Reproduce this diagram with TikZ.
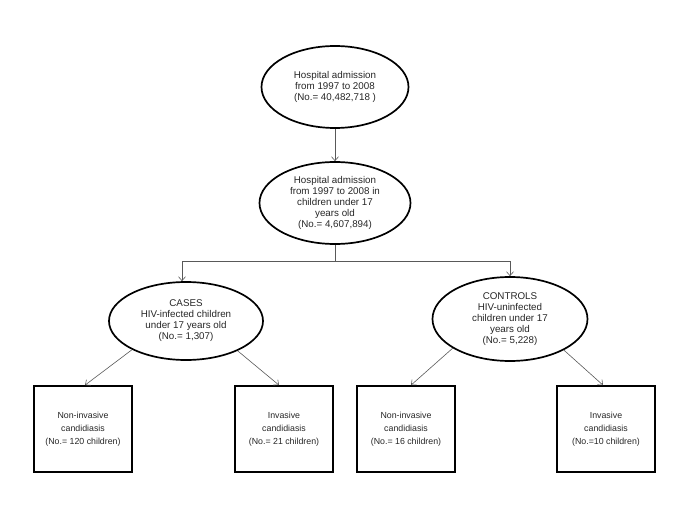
\documentclass[tikz,border=0pt]{standalone}
\usepackage{fontspec}
\setmainfont{Liberation Sans}
\usetikzlibrary{shapes.geometric,arrows.meta}
\begin{document}
\begin{tikzpicture}[x=1pt,y=-1pt,
  ell/.style={ellipse,draw=black,line width=1.7pt,inner sep=0pt,align=center,font=\fontsize{9.8}{11}\selectfont,text=black!85},
  boxnode/.style={rectangle,draw=black,line width=1.7pt,inner sep=0pt,minimum width=98pt,minimum height=86pt,align=center,font=\fontsize{8.8}{13}\selectfont,text=black!85},
  conn/.style={draw=black!65,line width=0.6pt},
  arr/.style={conn,-{Straight Barb[length=4pt,width=7pt]}}]
\useasboundingbox (0,0) rectangle (685,513);
\node[ell,minimum width=147pt,minimum height=82pt] (e1) at (335,87) {Hospital admission\\from 1997 to 2008\\(No.= 40,482,718 )};
\node[ell,minimum width=151pt,minimum height=82pt] (e2) at (335,203) {Hospital admission\\from 1997 to 2008 in\\children under 17\\years old\\(No.= 4,607,894)};
\node[ell,minimum width=154pt,minimum height=78pt] (e3) at (186,321) {CASES\\HIV-infected children\\under 17 years old\\(No.= 1,307)};
\node[ell,minimum width=155pt,minimum height=84pt] (e4) at (510,319) {CONTROLS\\HIV-uninfected\\children under 17\\years old\\(No.= 5,228)};
\node[boxnode] (b1) at (83,429) {Non-invasive\\candidiasis\\(No.= 120 children)};
\node[boxnode] (b2) at (284,429) {Invasive\\candidiasis\\(No.= 21 children)};
\node[boxnode] (b3) at (406,429) {Non-invasive\\candidiasis\\(No.= 16 children)};
\node[boxnode] (b4) at (606,429) {Invasive\\candidiasis\\(No.=10 children)};
\coordinate (h) at (335,261);
\coordinate (hl) at (182,261);
\coordinate (hr) at (510,261);
\draw[arr] (e1) -- (e2);
\draw[conn] (e2.south) -- (h);
\draw[arr] (h) -- (hl) -- (e3.north -| hl);
\draw[arr] (h) -- (hr) -- (e4.north -| hr);
\draw[arr] (e3.-152) -- ([xshift=2pt]b1.north);
\draw[arr] (e3.-30) -- ([xshift=-5pt]b2.north);
\draw[arr] (e4.-153) -- ([xshift=5pt]b3.north);
\draw[arr] (e4.-30) -- ([xshift=-3pt]b4.north);
\end{tikzpicture}
\end{document}
